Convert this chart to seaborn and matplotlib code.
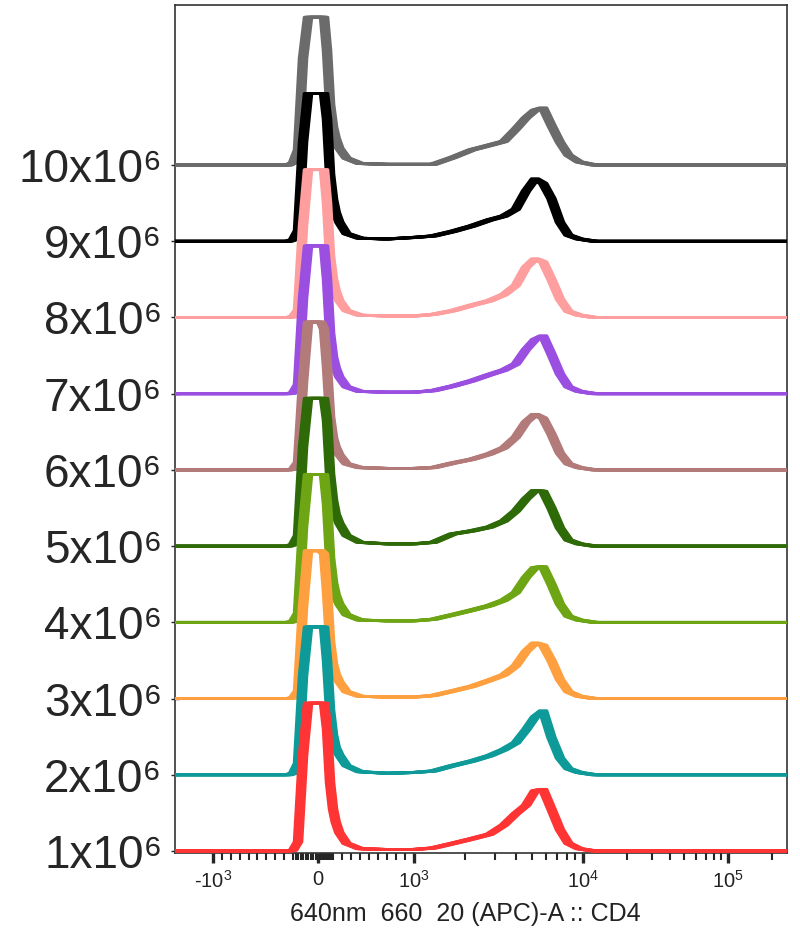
import numpy as np
import matplotlib
matplotlib.use("Agg")
import matplotlib.pyplot as plt
import matplotlib.patheffects as pe
import seaborn as sns

# fluorescence bins (APC-A, CD4) shared by every sample
fluor = [-2500, -300, -150, -100, -80, -60, -40, -20, 0, 20, 40, 60, 80, 100, 130,
         170, 250, 400, 700, 1000, 1300, 1700, 2200, 2800, 3400, 4000, 4600,
         5200, 5800, 6500, 7300, 8200, 9500, 12000, 260000]

# histogram heights, 100 = one stagger step (negative peak is clipped at the top)
h_1x = [0, 0, 0, 1, 12, 125, 194, 194, 194, 194, 194, 160, 90, 55, 38, 24, 10, 3, 2, 2,
        4, 10, 16, 22, 34, 49, 60, 79, 81, 55, 28, 10, 3, 0, 0]
h_2x = [0, 0, 0, 2, 15, 130, 194, 194, 194, 194, 194, 150, 85, 52, 36, 26, 12, 4, 2, 3,
        5, 12, 18, 25, 33, 42, 59, 76, 84, 49, 22, 8, 3, 0, 0]
h_3x = [0, 0, 0, 1, 10, 120, 194, 194, 194, 194, 190, 140, 75, 45, 32, 22, 9, 3, 2, 2,
        4, 10, 16, 24, 31, 43, 62, 73, 70, 50, 25, 9, 3, 0, 0]
h_4x = [0, 0, 0, 1, 12, 125, 194, 194, 194, 194, 194, 155, 85, 52, 36, 24, 10, 3, 2, 2,
        4, 10, 16, 22, 29, 39, 59, 72, 73, 50, 24, 8, 3, 0, 0]
h_5x = [0, 0, 0, 2, 14, 130, 194, 194, 194, 194, 194, 165, 95, 60, 42, 30, 14, 5, 3, 3,
        5, 16, 20, 25, 33, 46, 62, 73, 72, 50, 24, 8, 3, 0, 0]
h_6x = [0, 0, 0, 1, 10, 115, 194, 194, 194, 194, 185, 135, 70, 42, 30, 20, 8, 3, 2, 2,
        3, 9, 14, 21, 29, 43, 63, 73, 68, 47, 22, 8, 3, 0, 0]
h_7x = [0, 0, 0, 1, 12, 125, 194, 194, 194, 194, 194, 150, 80, 48, 34, 22, 9, 3, 2, 2,
        4, 10, 17, 25, 31, 39, 58, 71, 76, 52, 26, 9, 3, 0, 0]
h_8x = [0, 0, 0, 1, 10, 120, 194, 194, 194, 194, 194, 150, 80, 50, 35, 22, 9, 3, 2, 2,
        4, 9, 16, 22, 30, 42, 66, 77, 73, 50, 24, 8, 3, 0, 0]
h_9x = [0, 0, 0, 2, 14, 130, 194, 194, 194, 194, 194, 160, 88, 55, 38, 25, 10, 4, 3, 5,
        7, 13, 20, 28, 33, 42, 66, 82, 76, 56, 25, 8, 3, 0, 0]
h_10x = [0, 0, 0, 3, 20, 140, 194, 194, 194, 194, 194, 150, 80, 50, 35, 22, 9, 2, 1, 1,
         1, 10, 20, 26, 31, 47, 62, 72, 75, 52, 30, 13, 4, 0, 0]

samples = [h_1x, h_2x, h_3x, h_4x, h_5x, h_6x, h_7x, h_8x, h_9x, h_10x]
row_labels = ["1x10⁶", "2x10⁶", "3x10⁶", "4x10⁶", "5x10⁶",
              "6x10⁶", "7x10⁶", "8x10⁶", "9x10⁶", "10x10⁶"]
colors = ["#ff3434", "#0f9a9a", "#ffa040", "#6ea514", "#2f6a09",
          "#b37a7a", "#9b4fe0", "#ff9e9e", "#000000", "#6b6b6b"]
step = 100

major_ticks = [-1000, 0, 1000, 10000, 100000]
major_labels = ["-10$^{3}$", "0", "10$^{3}$", "10$^{4}$", "10$^{5}$"]
minor_ticks = ([-900, -800, -700, -600, -500, -400, -300, -200, -100]
               + [-90, -80, -70, -60, -50, -40, -30, -20, -10, 10, 20, 30, 40, 50, 60, 70, 80, 90]
               + [100, 200, 300, 400, 500, 600, 700, 800, 900]
               + [2000, 3000, 4000, 5000, 6000, 7000, 8000, 9000]
               + [20000, 30000, 40000, 50000, 60000, 70000, 80000, 90000, 200000])


# biexponential-like display scale (linear around 0, log above 10^3)
G_ANCH = [-6, -2, -1, -0.1, 0, 0.1, 1, 2, 3, 4, 8]
P_ANCH = [-302, 110, 213, 293, 318, 333, 414, 583, 728, 873, 1453]


def _g(v):
    v = np.asarray(v, dtype=float)
    a = np.abs(v)
    return np.where(a <= 1000, v / 1000, np.sign(v) * (1 + np.log10(np.maximum(a, 1000) / 1000)))


def _ginv(g):
    g = np.asarray(g, dtype=float)
    a = np.abs(g)
    return np.where(a <= 1, g * 1000, np.sign(g) * 1000 * 10 ** (np.maximum(a, 1) - 1))


def fwd(v):
    return np.interp(_g(v), G_ANCH, P_ANCH)


def inv(p):
    return _ginv(np.interp(p, P_ANCH, G_ANCH))


sns.set_style("ticks")
plt.rcParams["font.family"] = ["Liberation Sans", "DejaVu Sans"]
plt.rcParams["mathtext.default"] = "regular"

fig = plt.figure(figsize=(8, 9.33), dpi=100)
ax = fig.add_axes([175 / 800, 1 - 853 / 933, 612 / 800, 848 / 933])
ax.set_xscale("function", functions=(fwd, inv))

# draw from the top row down so lower histograms sit in front
for i in range(len(samples) - 1, -1, -1):
    base = i * step
    y = np.array(samples[i]) + base
    z = 10 + (len(samples) - i) * 2
    ax.fill_between(fluor, base, y, color="white", zorder=z, lw=0)
    brush = [pe.Stroke(offset=(dx, 0), linewidth=2.0, foreground=colors[i])
             for dx in np.linspace(-2.8, 2.8, 9)]
    sns.lineplot(x=fluor, y=y, color=colors[i], lw=2.0, sort=False, estimator=None,
                 ax=ax, zorder=z + 1, path_effects=brush)

ax.set_xlim(-2340, 255000)
ax.set_ylim(-2.6, 1110)

ax.set_xticks(major_ticks)
ax.set_xticklabels(major_labels, fontsize=14.5, color="#222222")
ax.set_xticks(minor_ticks, minor=True)
ax.tick_params(axis="x", which="major", length=7, width=2.4, direction="out", pad=5)
ax.tick_params(axis="x", which="minor", length=5, width=1.5, direction="out")

ax.set_yticks([k * step for k in range(len(samples))])
ax.set_yticklabels(row_labels, fontsize=33)
ax.tick_params(axis="y", which="major", length=6, width=1, direction="inout", pad=6)
ax.tick_params(axis="y", which="minor", left=False)

ax.set_xlabel("640nm  660  20 (APC)-A :: CD4", fontsize=18, color="#222222")
ax.xaxis.set_label_coords(0.474, -0.058)
ax.set_ylabel("")

for s in ax.spines.values():
    s.set_visible(True)
    s.set_color("#333333")
    s.set_linewidth(1.2)

fig.savefig("out.png", dpi=100)
